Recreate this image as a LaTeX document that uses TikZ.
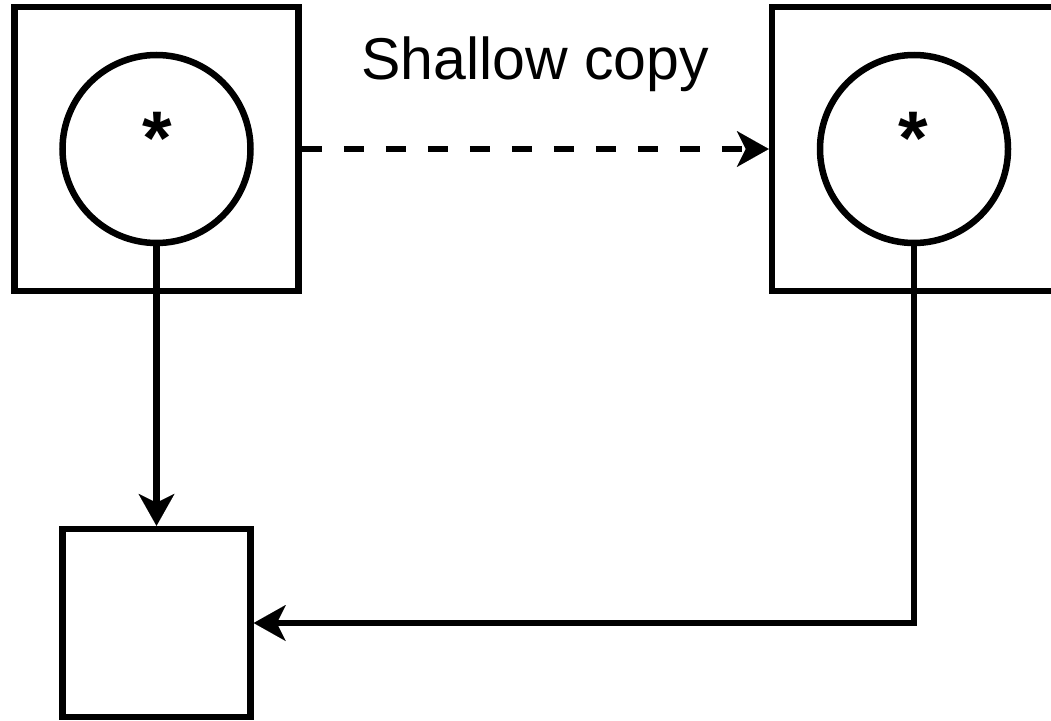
\documentclass[tikz,border=0pt]{standalone}
\usepackage{fontspec}
\setmainfont{Liberation Sans}
\usetikzlibrary{arrows.meta}
\tikzset{
  sqbox/.style={draw, line width=6.5pt, minimum width=#1, minimum height=#1, inner sep=0pt},
  ptrcircle/.style={draw, circle, line width=6.5pt, minimum size=188pt, inner sep=0pt},
  ptrmark/.style={font=\fontsize{76}{90}\selectfont\bfseries, inner sep=0pt, anchor=base},
  link/.style={line width=6.5pt, -{Stealth[length=32pt, width=36pt, inset=9pt, line width=0.01pt]}},
  copylink/.style={link, dash pattern=on 20pt off 22pt},
}
\begin{document}
\begin{tikzpicture}[x=1pt, y=-1pt]
  \fill[white] (0,0) rectangle (1051,720);
  \useasboundingbox (0,0) rectangle (1051,720);
  \clip (0,0) rectangle (1051,720);
  % the two objects holding a pointer
  \node[sqbox=284pt] (src) at (156.5,149) {};
  \node[sqbox=284pt] (dst) at (914,149) {};
  % the shared pointee
  \node[sqbox=188pt] (obj) at (156.5,623) {};
  % pointer members
  \node[ptrcircle] (p1) at (156.5,149) {};
  \node[ptrcircle] (p2) at (914,149) {};
  \node[ptrmark] (m1) at (157,164) {*};
  \node[ptrmark] (m2) at (913,164) {*};
  % label of the copy
  \node[font=\fontsize{59}{70}\selectfont, anchor=base, inner sep=0pt] (lbl) at (535,79) {Shallow copy};
  % connectors
  \draw[copylink] (src.east) -- (dst.west);
  \draw[link] (p1.south) -- (obj.north);
  \draw[link] (p2.south) |- (obj.east);
\end{tikzpicture}
\end{document}
